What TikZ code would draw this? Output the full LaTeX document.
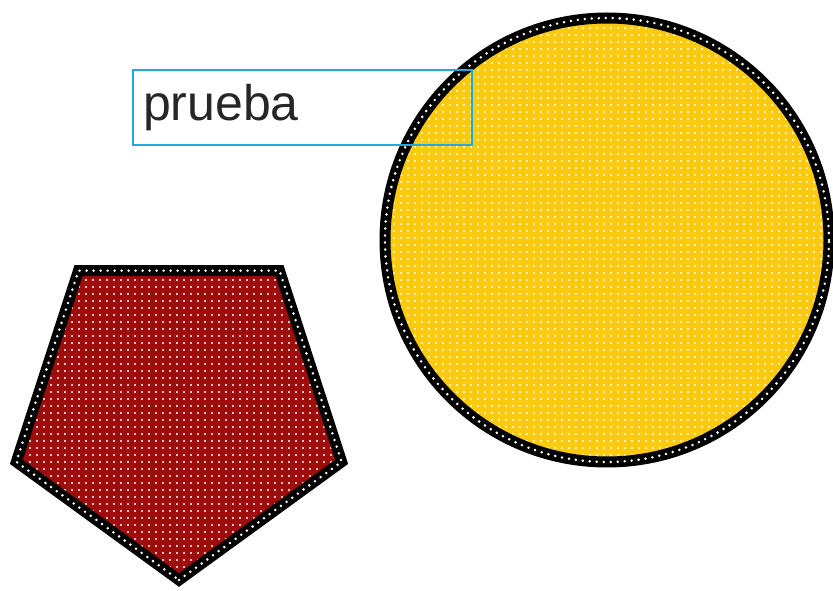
\documentclass[tikz,border=0pt]{standalone}
\usepackage{fontspec}
\setmainfont{Liberation Sans}
\definecolor{rojo}{RGB}{158,12,12}
\definecolor{amarillo}{RGB}{252,202,12}
\definecolor{celeste}{RGB}{36,168,228}
\tikzset{
  borde/.style={line width=11pt, draw=black},
  bordepuntos/.style={draw=white, line width=2.8pt, line cap=round, dash pattern=on 0pt off 7pt},
}
\begin{document}
\begin{tikzpicture}[x=1pt,y=1pt]
\useasboundingbox (0,0) rectangle (833,590);
% Pentagon
\coordinate (pc) at (179,181);
\fill[rojo] (pc) +(270:171) -- +(342:171) -- +(54:171) -- +(126:171) -- +(198:171) -- cycle;
\begin{scope}
  \clip (pc) +(270:171) -- +(342:171) -- +(54:171) -- +(126:171) -- +(198:171) -- cycle;
  \foreach \i in {0,...,50} {
    \foreach \j in {0,...,48} {
      \fill[white] (\i*7+2,\j*7+2) circle (1.2);
    }
  }
\end{scope}
\draw[borde] (pc) +(270:171) -- +(342:171) -- +(54:171) -- +(126:171) -- +(198:171) -- cycle;
\draw[bordepuntos] (pc) +(270:171) -- +(342:171) -- +(54:171) -- +(126:171) -- +(198:171) -- cycle;
% Circle
\coordinate (cc) at (607,350);
\fill[amarillo] (cc) circle (222);
\begin{scope}
  \clip (cc) circle (222);
  \foreach \i in {54,...,119} {
    \foreach \j in {18,...,84} {
      \fill[white] (\i*7+2,\j*7+2) circle (1.2);
    }
  }
\end{scope}
\draw[borde] (cc) circle (222);
\draw[bordepuntos] (cc) circle (222);
% Text box
\node[draw=celeste, line width=2pt, minimum width=339pt, minimum height=75pt,
      text width=319pt, inner sep=10pt, align=left, font=\fontsize{50}{60}\selectfont,
      text=black!85] (etiqueta) at (302.5,482.5) {prueba};
\end{tikzpicture}
\end{document}
